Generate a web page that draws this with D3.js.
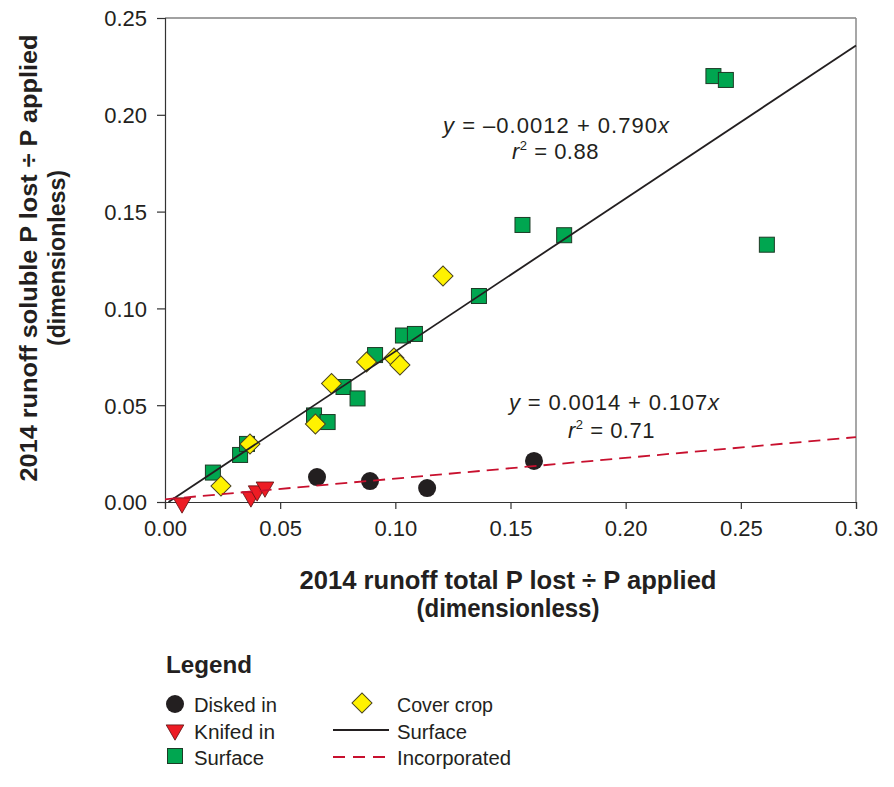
<!DOCTYPE html>
<html>
<head>
<meta charset="utf-8">
<script src="https://cdn.jsdelivr.net/npm/d3@7"></script>
<style>
  body { margin: 0; background: #fff; }
  text { font-family: "Liberation Sans", Arial, sans-serif; fill: #231f20; }
</style>
</head>
<body>
<script>
// series values (x = total P lost / P applied, y = soluble P lost / P applied)
var diskedX = [0.066, 0.089, 0.1138, 0.1602];
var diskedY = [0.0129, 0.0108, 0.0072, 0.0212];
var knifedX = [0.0074, 0.0373, 0.040, 0.0434];
var knifedY = [-0.0005, 0.0026, 0.0057, 0.0077];
var surfaceX = [0.0208, 0.0326, 0.0356, 0.0647, 0.0706, 0.0775, 0.0836, 0.0912, 0.1033, 0.1085, 0.1363, 0.1552, 0.1733, 0.2381, 0.2435, 0.2613];
var surfaceY = [0.0152, 0.0243, 0.030, 0.0447, 0.0413, 0.0594, 0.0535, 0.0759, 0.086, 0.0868, 0.1064, 0.1431, 0.1378, 0.220, 0.218, 0.1329];
var coverX = [0.0243, 0.0369, 0.0653, 0.0723, 0.0875, 0.0994, 0.102, 0.1207];
var coverY = [0.0083, 0.030, 0.0403, 0.0612, 0.0723, 0.0744, 0.0708, 0.1167];
var xTicks = [0, 0.05, 0.10, 0.15, 0.20, 0.25, 0.30];
var yTicks = [0, 0.05, 0.10, 0.15, 0.20, 0.25];
// regression fits: [intercept, slope, r2]
var surfaceFit = [-0.0012, 0.790, 0.88];
var incorpFit = [0.0014, 0.107, 0.71];

(function () {
    'use strict';
    var W = 894, H = 787;
    var left = 165, right = 856, top = 18, bottom = 502;

    var svg = d3.select('body')
        .append('svg')
        .attr('width', W)
        .attr('height', H);

    var x = d3.scaleLinear().domain([0, 0.30]).range([left, right]);
    var y = d3.scaleLinear().domain([0, 0.25]).range([bottom, top]);

    function zip(xs, ys) {
        return xs.map(function (v, i) { return { x: v, y: ys[i] }; });
    }

    // frame (top and right)
    svg.append('line').attr('x1', left).attr('x2', right).attr('y1', top).attr('y2', top)
        .attr('stroke', '#444').attr('stroke-width', 1.2);
    svg.append('line').attr('x1', right).attr('x2', right).attr('y1', top).attr('y2', bottom)
        .attr('stroke', '#8a8a8a').attr('stroke-width', 1.5);

    var xAxis = svg.append('g')
        .attr('transform', 'translate(0,' + bottom + ')')
        .call(d3.axisBottom(x).tickValues(xTicks).tickSize(7).tickPadding(11).tickFormat(d3.format('.2f')));
    var yAxis = svg.append('g')
        .attr('transform', 'translate(' + left + ',0)')
        .call(d3.axisLeft(y).tickValues(yTicks).tickSize(8).tickPadding(10).tickFormat(d3.format('.2f')));
    [xAxis, yAxis].forEach(function (g) {
        g.select('.domain').attr('stroke', '#333').attr('stroke-width', 1.2);
        g.selectAll('.tick line').attr('stroke', '#333').attr('stroke-width', 1.2);
        g.selectAll('.tick text')
            .attr('fill', '#231f20')
            .style('font-family', '"Liberation Sans", Arial, sans-serif')
            .style('font-size', '22px');
    });
    yAxis.selectAll('.tick text').attr('dy', '0.36em');

    // markers
    svg.append('g').selectAll('circle')
        .data(zip(diskedX, diskedY)).enter()
        .append('circle')
        .attr('cx', function (d) { return x(d.x); })
        .attr('cy', function (d) { return y(d.y); })
        .attr('r', 9)
        .attr('fill', '#231f20');

    var tri = d3.symbol().type(d3.symbolTriangle).size(135);
    svg.append('g').selectAll('path')
        .data(zip(knifedX, knifedY)).enter()
        .append('path')
        .attr('d', tri)
        .attr('transform', function (d) { return 'translate(' + x(d.x) + ',' + y(d.y) + ') rotate(180)'; })
        .attr('fill', '#ed1c24')
        .attr('stroke', '#5a1010')
        .attr('stroke-width', 0.8);

    svg.append('g').selectAll('rect')
        .data(zip(surfaceX, surfaceY)).enter()
        .append('rect')
        .attr('x', function (d) { return x(d.x) - 7.5; })
        .attr('y', function (d) { return y(d.y) - 7.5; })
        .attr('width', 15)
        .attr('height', 15)
        .attr('fill', '#00a650')
        .attr('stroke', '#1d3b26')
        .attr('stroke-width', 1);

    var dia = d3.symbol().type(d3.symbolSquare).size(200);
    svg.append('g').selectAll('path')
        .data(zip(coverX, coverY)).enter()
        .append('path')
        .attr('d', dia)
        .attr('transform', function (d) { return 'translate(' + x(d.x) + ',' + y(d.y) + ') rotate(45)'; })
        .attr('fill', '#fff200')
        .attr('stroke', '#4a4420')
        .attr('stroke-width', 1);

    // regression lines
    var x0s = -surfaceFit[0] / surfaceFit[1];
    svg.append('line')
        .attr('x1', x(x0s)).attr('y1', y(0))
        .attr('x2', x(0.30)).attr('y2', y(surfaceFit[0] + surfaceFit[1] * 0.30))
        .attr('stroke', '#231f20').attr('stroke-width', 1.8);
    svg.append('line')
        .attr('x1', x(0)).attr('y1', y(incorpFit[0]))
        .attr('x2', x(0.30)).attr('y2', y(incorpFit[0] + incorpFit[1] * 0.30))
        .attr('stroke', '#c8102e').attr('stroke-width', 1.8)
        .attr('stroke-dasharray', '12,7');

    // equations
    function equation(tx, ty, fit, sign, len) {
        var t = svg.append('text').attr('x', tx).attr('y', ty)
            .attr('textLength', len).attr('lengthAdjust', 'spacing')
            .style('font-size', '22px');
        t.append('tspan').style('font-style', 'italic').text('y');
        t.append('tspan').text(' = ' + sign + Math.abs(fit[0]).toFixed(4) + ' + ' + fit[1].toFixed(3));
        t.append('tspan').style('font-style', 'italic').text('x');
    }
    function rsq(tx, ty, fit) {
        var t = svg.append('text').attr('x', tx).attr('y', ty)
            .style('font-size', '22px').style('letter-spacing', '0.5px');
        t.append('tspan').style('font-style', 'italic').text('r');
        t.append('tspan').attr('dy', -9).style('font-size', '13px').text('2');
        t.append('tspan').attr('dy', 9).text(' = ' + fit[2].toFixed(2));
    }
    equation(443, 133, surfaceFit, '\u2013', 226);
    rsq(512, 159, surfaceFit);
    equation(509, 410, incorpFit, '', 210);
    rsq(568, 438, incorpFit);

    // axis titles
    svg.append('text').attr('x', 508).attr('y', 589).attr('text-anchor', 'middle')
        .attr('textLength', 417).attr('lengthAdjust', 'spacingAndGlyphs')
        .style('font-weight', 'bold').style('font-size', '26px')
        .text('2014 runoff total P lost \u00f7 P applied');
    svg.append('text').attr('x', 508).attr('y', 617).attr('text-anchor', 'middle')
        .attr('textLength', 183).attr('lengthAdjust', 'spacingAndGlyphs')
        .style('font-weight', 'bold').style('font-size', '26px')
        .text('(dimensionless)');

    var yt = svg.append('g').attr('transform', 'translate(0,258) rotate(-90)');
    yt.append('text').attr('x', 0).attr('y', 37).attr('text-anchor', 'middle')
        .attr('textLength', 447).attr('lengthAdjust', 'spacingAndGlyphs')
        .style('font-weight', 'bold').style('font-size', '24px')
        .text('2014 runoff soluble P lost \u00f7 P applied');
    yt.append('text').attr('x', 0).attr('y', 65).attr('text-anchor', 'middle')
        .attr('textLength', 176).attr('lengthAdjust', 'spacingAndGlyphs')
        .style('font-weight', 'bold').style('font-size', '24px')
        .text('(dimensionless)');

    // legend
    var leg = svg.append('g');
    leg.append('text').attr('x', 166).attr('y', 673)
        .attr('textLength', 86).attr('lengthAdjust', 'spacingAndGlyphs')
        .style('font-weight', 'bold').style('font-size', '24px').text('Legend');
    var lf = '20px';
    leg.append('circle').attr('cx', 175).attr('cy', 704).attr('r', 9).attr('fill', '#231f20');
    leg.append('path').attr('d', tri).attr('transform', 'translate(175,730) rotate(180)')
        .attr('fill', '#ed1c24').attr('stroke', '#5a1010').attr('stroke-width', 0.8);
    leg.append('rect').attr('x', 167.5).attr('y', 748.5).attr('width', 15).attr('height', 15)
        .attr('fill', '#00a650').attr('stroke', '#1d3b26');
    leg.append('path').attr('d', dia).attr('transform', 'translate(362,703) rotate(45)')
        .attr('fill', '#fff200').attr('stroke', '#4a4420');
    leg.append('line').attr('x1', 333).attr('x2', 389).attr('y1', 730).attr('y2', 730)
        .attr('stroke', '#231f20').attr('stroke-width', 1.8);
    leg.append('line').attr('x1', 333).attr('x2', 391).attr('y1', 757).attr('y2', 757)
        .attr('stroke', '#c8102e').attr('stroke-width', 1.8).attr('stroke-dasharray', '12,8');
    [['Disked in', 194, 712, 83], ['Knifed in', 194, 739, 81], ['Surface', 194, 765, 70],
     ['Cover crop', 397, 712, 96], ['Surface', 397, 739, 70], ['Incorporated', 397, 765, 114]].forEach(function (d) {
        leg.append('text').attr('x', d[1]).attr('y', d[2])
            .attr('textLength', d[3]).attr('lengthAdjust', 'spacingAndGlyphs')
            .style('font-size', lf).text(d[0]);
    });
}());
</script>
</body>
</html>
